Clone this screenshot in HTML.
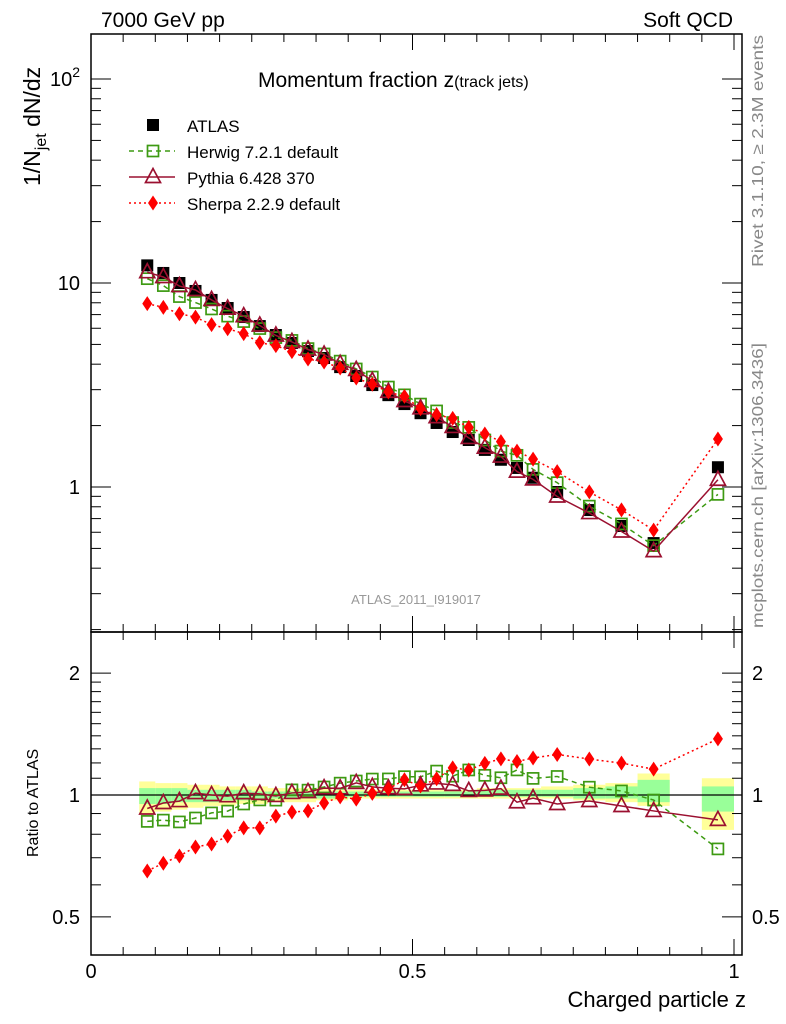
<!DOCTYPE html>
<html><head><meta charset="utf-8">
<style>
html,body{margin:0;padding:0;background:#fff;}
svg{display:block;font-family:"Liberation Sans",sans-serif;}
</style></head>
<body>
<svg id="chart" width="786" height="1024" viewBox="0 0 786 1024" xmlns="http://www.w3.org/2000/svg">
<text x="101" y="27" font-size="21">7000 GeV pp</text>
<text x="733" y="27" font-size="21" text-anchor="end">Soft QCD</text>
<text x="258" y="87" font-size="21">Momentum fraction z<tspan font-size="16">(track jets)</tspan></text>
<text transform="translate(40,186) rotate(-90)" font-size="23">1/N<tspan font-size="16" dy="6">jet</tspan><tspan dy="-6"> dN/dz</tspan></text>
<text transform="translate(38,857) rotate(-90)" font-size="16">Ratio to ATLAS</text>
<text x="746" y="1007" font-size="22" text-anchor="end">Charged particle z</text>
<text transform="translate(763,267) rotate(-90)" font-size="16" fill="#888" textLength="232" lengthAdjust="spacingAndGlyphs">Rivet 3.1.10, ≥ 2.3M events</text>
<text transform="translate(763,628) rotate(-90)" font-size="16" fill="#888" textLength="285" lengthAdjust="spacingAndGlyphs">mcplots.cern.ch [arXiv:1306.3436]</text>
<text x="416" y="604" font-size="13" fill="#999" text-anchor="middle">ATLAS_2011_I919017</text>
<g id="bands"></g>
<g id="axes"></g>
<g id="series"></g>
<g id="legend"></g>
</svg>
<script>
const zCenters=[0.0875,0.1125,0.1375,0.1625,0.1875,0.2125,0.2375,0.2625,0.2875,0.3125,0.3375,0.3625,0.3875,0.4125,0.4375,0.4625,0.4875,0.5125,0.5375,0.5625,0.5875,0.6125,0.6375,0.6625,0.6875,0.725,0.775,0.825,0.875,0.975];
const binLo=[0.075,0.1,0.125,0.15,0.175,0.2,0.225,0.25,0.275,0.3,0.325,0.35,0.375,0.4,0.425,0.45,0.475,0.5,0.525,0.55,0.575,0.6,0.625,0.65,0.675,0.7,0.75,0.8,0.85,0.95];
const binHi=[0.1,0.125,0.15,0.175,0.2,0.225,0.25,0.275,0.3,0.325,0.35,0.375,0.4,0.425,0.45,0.475,0.5,0.525,0.55,0.575,0.6,0.625,0.65,0.675,0.7,0.75,0.8,0.85,0.9,1.0];
const atlas=[12.2,11.2,10.0,9.14,8.26,7.54,6.81,6.15,5.56,5.08,4.64,4.29,3.87,3.50,3.16,2.82,2.55,2.30,2.06,1.86,1.70,1.52,1.36,1.24,1.11,0.945,0.771,0.644,0.531,1.25];
const herwig=[10.5,9.71,8.58,8.02,7.46,6.88,6.47,5.98,5.40,5.23,4.77,4.49,4.14,3.79,3.46,3.09,2.83,2.55,2.36,2.07,1.96,1.70,1.50,1.43,1.22,1.05,0.806,0.659,0.516,0.92];
const pythia=[11.3,10.7,9.66,9.24,8.26,7.49,6.88,6.19,5.53,5.14,4.72,4.46,4.02,3.75,3.31,2.93,2.64,2.43,2.20,1.97,1.74,1.56,1.41,1.19,1.09,0.898,0.745,0.605,0.485,1.085];
const sherpa=[7.92,7.60,7.07,6.80,6.25,5.97,5.65,5.10,4.93,4.61,4.24,4.10,3.83,3.42,3.19,2.92,2.78,2.42,2.26,2.17,1.96,1.82,1.67,1.50,1.37,1.19,0.946,0.772,0.615,1.72];
const totUp=[0.08,0.07,0.07,0.06,0.06,0.05,0.05,0.05,0.04,0.04,0.04,0.04,0.03,0.03,0.03,0.03,0.03,0.03,0.03,0.03,0.03,0.04,0.04,0.04,0.04,0.05,0.06,0.07,0.13,0.10];
const totDn=[0.10,0.09,0.08,0.07,0.06,0.06,0.05,0.05,0.04,0.04,0.04,0.03,0.03,0.02,0.02,0.02,0.02,0.02,0.02,0.02,0.02,0.02,0.02,0.02,0.02,0.02,0.03,0.04,0.06,0.18];
const statUp=[0.04,0.04,0.04,0.03,0.03,0.03,0.03,0.02,0.02,0.02,0.02,0.02,0.02,0.02,0.02,0.02,0.02,0.02,0.02,0.02,0.02,0.03,0.03,0.03,0.03,0.03,0.04,0.05,0.09,0.05];
const statDn=[0.05,0.05,0.04,0.04,0.04,0.03,0.03,0.03,0.02,0.02,0.02,0.02,0.02,0.01,0.01,0.01,0.01,0.01,0.01,0.01,0.01,0.01,0.01,0.01,0.01,0.01,0.02,0.02,0.04,0.09];
const mainTicks=[1,10,100];
const ratioTicks=[0.5,1,2];
const xTicks=[0,0.5,1];

const NS="http://www.w3.org/2000/svg";
const L=91,R=742,T=34,M=632,B=955;
const X=z=>91+z*643;
const Y=v=>487-204*Math.log10(v);
const YR=r=>795-405*Math.log10(r);
function mk(tag,parent,attrs){const e=document.createElementNS(NS,tag);for(const k in attrs)e.setAttribute(k,attrs[k]);parent.appendChild(e);return e;}
const axes=document.getElementById('axes'),bands=document.getElementById('bands'),series=document.getElementById('series'),legend=document.getElementById('legend');

for(let i=0;i<zCenters.length;i++){
  const x0=X(binLo[i]),x1=X(binHi[i]);
  const y=mk('rect',bands,{x:x0,y:YR(1+totUp[i]),width:x1-x0,height:YR(1-totDn[i])-YR(1+totUp[i]),fill:'#ffff99'});
  
  
  const g=mk('rect',bands,{x:x0,y:YR(1+statUp[i]),width:x1-x0,height:YR(1-statDn[i])-YR(1+statUp[i]),fill:'#99ff99'});
  
  
}
const f1=mk('rect',axes,{x:L,y:T,width:R-L,height:M-T,fill:'none',stroke:'#000','stroke-width':1.5});


const f2=mk('rect',axes,{x:L,y:M,width:R-L,height:B-M,fill:'none',stroke:'#000','stroke-width':1.5});


const one=mk('line',axes,{x1:L,x2:R,y1:YR(1),y2:YR(1),stroke:'#000','stroke-width':1.2});


for(let k=0;k<=20;k++){const z=k*0.05;const xx=X(z);const len=(k%10===0)?16:8;
  mk('line',axes,{x1:xx,x2:xx,y1:T,y2:T+len,stroke:'#000'});
  mk('line',axes,{x1:xx,x2:xx,y1:M,y2:M+len,stroke:'#000'});
  mk('line',axes,{x1:xx,x2:xx,y1:M,y2:M-len,stroke:'#000'});
  mk('line',axes,{x1:xx,x2:xx,y1:B,y2:B-len,stroke:'#000'});}
xTicks.forEach(z=>{const t=mk('text',axes,{x:X(z),y:978,'font-size':20,'text-anchor':'middle'});t.textContent=String(z);
  
  });
for(let d=-1;d<=2;d++)for(let m=1;m<=9;m++){const v=m*Math.pow(10,d);const yy=Y(v);if(yy<T||yy>M)continue;const len=m===1?20:10;
  mk('line',axes,{x1:L,x2:L+len,y1:yy,y2:yy,stroke:'#000'});mk('line',axes,{x1:R,x2:R-len,y1:yy,y2:yy,stroke:'#000'});}
mainTicks.forEach(v=>{const t=mk('text',axes,{x:80,y:Y(v)+7,'font-size':20,'text-anchor':'end'});
  if(v===100){t.innerHTML='10<tspan font-size="14" dy="-9">2</tspan>';}else t.textContent=String(v);
  
  });
const rt=[0.5,0.6,0.7,0.8,0.9,1,1.1,1.2,1.3,1.4,1.5,1.6,1.7,1.8,1.9,2];
rt.forEach(v=>{const yy=YR(v);const len=(v===0.5||v===1||v===2)?20:10;
  mk('line',axes,{x1:L,x2:L+len,y1:yy,y2:yy,stroke:'#000'});mk('line',axes,{x1:R,x2:R-len,y1:yy,y2:yy,stroke:'#000'});});
ratioTicks.forEach(v=>{const a=mk('text',axes,{x:80,y:YR(v)+7,'font-size':20,'text-anchor':'end'});a.textContent=String(v);
  
  
  const b=mk('text',axes,{x:752,y:YR(v)+7,'font-size':20,'fill':'#000'});b.textContent=String(v);
  
  });

function marker(g,type,x,y,color){
  if(type==='sq')return mk('rect',g,{x:x-6,y:y-6,width:12,height:12,fill:'#000'});
  if(type==='osq')return mk('rect',g,{x:x-5.5,y:y-5.5,width:11,height:11,fill:'none',stroke:color,'stroke-width':1.7});
  if(type==='tri')return mk('polygon',g,{points:`${x},${y-8.5} ${x-7.5},${y+5.5} ${x+7.5},${y+5.5}`,fill:'none',stroke:color,'stroke-width':1.7});
  return mk('polygon',g,{points:`${x},${y-7.5} ${x+5},${y} ${x},${y+7.5} ${x-5},${y}`,fill:color});
}
const defs=[
 {name:'atlas',data:atlas,type:'sq',color:'#000',dash:null},
 {name:'herwig',data:herwig,type:'osq',color:'#3d9a12',dash:'5,4'},
 {name:'pythia',data:pythia,type:'tri',color:'#9b1030',dash:''},
 {name:'sherpa',data:sherpa,type:'dia',color:'#ff0000',dash:'2,3'}];
defs.forEach(s=>{
  const g=mk('g',series,{});
  
  
  const rg=mk('g',series,{});
  
  
  if(s.dash!==null){
    const pts=s.data.map((v,i)=>X(zCenters[i])+','+Y(v)).join(' ');
    const pl=mk('polyline',g,{points:pts,fill:'none',stroke:s.color,'stroke-width':1.5,'stroke-dasharray':s.dash});
    
    
    const rpts=s.data.map((v,i)=>X(zCenters[i])+','+YR(v/atlas[i])).join(' ');
    const rl=mk('polyline',rg,{points:rpts,fill:'none',stroke:s.color,'stroke-width':1.5,'stroke-dasharray':s.dash});
    
    
  }
  s.data.forEach((v,i)=>{
    const m=marker(g,s.type,X(zCenters[i]),Y(v),s.color);
    
    
    if(s.name!=='atlas'){
      const rm=marker(rg,s.type,X(zCenters[i]),YR(v/atlas[i]),s.color);
      
      
    }
  });
});
const labels=['ATLAS','Herwig 7.2.1 default','Pythia 6.428 370','Sherpa 2.2.9 default'];
defs.forEach((s,i)=>{
  const yy=125+i*26;
  const g=mk('g',legend,{});
  
  
  if(s.dash!==null)mk('line',g,{x1:129,x2:175,y1:yy,y2:yy,stroke:s.color,'stroke-width':1.5,'stroke-dasharray':s.dash});
  marker(g,s.type,153,yy,s.color);
  const t=mk('text',g,{x:187,y:yy+7,'font-size':17});t.textContent=labels[i];
});
</script>
</body></html>
